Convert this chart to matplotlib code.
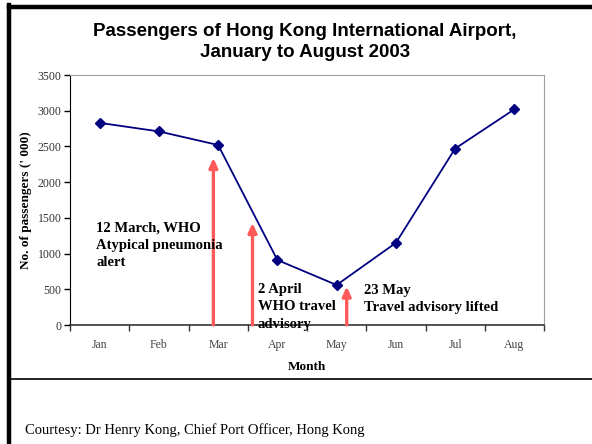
import matplotlib.pyplot as plt
from matplotlib.lines import Line2D

months = ["Jan", "Feb", "Mar", "Apr", "May", "Jun", "Jul", "Aug"]
passengers = [2830, 2710, 2520, 910, 560, 1150, 2470, 3020]

# event arrows: x in month index units, top of arrow in passengers
event_x = [1.92, 2.58, 4.17]
event_top = [2340, 1430, 540]
event_labels = [
    "12 March, WHO\nAtypical pneumonia\nalert",
    "2 April\nWHO travel\nadvisory",
    "23 May\nTravel advisory lifted",
]
label_pos = [(-0.06, 1450), (2.67, 590), (4.46, 580)]

serif = "Liberation Serif"
sans = "Liberation Sans"

fig = plt.figure(figsize=(5.92, 4.44), dpi=100)
ax = fig.add_axes([70 / 592, 1 - 325 / 444, 474 / 592, 250 / 444])

x = list(range(len(months)))
ax.plot(x, passengers, color="#000080", lw=1.3, marker="D", ms=5, zorder=4)

for ex, top in zip(event_x, event_top):
    ax.annotate(
        "", xy=(ex, top), xytext=(ex, 0),
        arrowprops=dict(arrowstyle="-|>,head_length=0.55,head_width=0.25",
                        color="#FF5B5B", lw=2.4, shrinkA=0, shrinkB=0),
        zorder=3,
    )

for (tx, ty), txt in zip(label_pos, event_labels):
    ax.text(tx, ty, txt, family=serif, fontweight="bold", fontsize=10.5,
            va="top", ha="left", linespacing=1.45, zorder=5)

ax.set_xlim(-0.5, len(months) - 0.5)
ax.set_ylim(0, 3500)
ax.set_yticks(range(0, 3501, 500))
ax.set_xticks(x)
ax.set_xticklabels(months)
ax.set_xticks([i - 0.5 for i in range(len(months) + 1)], minor=True)
ax.tick_params(axis="x", which="major", length=0, pad=10, labelsize=8.5,
               labelcolor="#444444")
ax.tick_params(axis="x", which="minor", length=4, width=1, color="#333333",
               direction="out")
ax.tick_params(axis="y", length=4, width=1, direction="out", labelsize=8.5,
               labelcolor="#333333", pad=2)
for lab in ax.get_xticklabels() + ax.get_yticklabels():
    lab.set_family(serif)

ax.spines["left"].set_color("black")
ax.spines["bottom"].set_color("#333333")
ax.spines["bottom"].set_linewidth(1.2)
ax.spines["top"].set_color("#a0a0a0")
ax.spines["right"].set_color("#a0a0a0")

ax.set_xlabel("Month", family=serif, fontweight="bold", fontsize=9.5, labelpad=7)
ax.set_ylabel("No. of passengers (' 000)", family=serif, fontweight="bold",
              fontsize=9.5, labelpad=4)

fig.text(305 / 592, 1 - 42 / 444,
         "Passengers of Hong Kong International Airport,\nJanuary to August 2003",
         family=sans, fontweight="bold", fontsize=13.5, ha="center", va="center",
         linespacing=1.25)

fig.text(25 / 592, 1 - 430 / 444,
         "Courtesy: Dr Henry Kong, Chief Port Officer, Hong Kong",
         family=serif, fontsize=10.5, ha="left", va="center")

# outer frame and separator
fig.add_artist(Line2D([9 / 592, 9 / 592], [0, 1 - 5 / 444], color="black",
                      lw=3.2, transform=fig.transFigure, solid_capstyle="projecting"))
fig.add_artist(Line2D([9 / 592, 1], [1 - 7 / 444, 1 - 7 / 444], color="black",
                      lw=3.2, transform=fig.transFigure, solid_capstyle="projecting"))
fig.add_artist(Line2D([9 / 592, 1], [1 - 379 / 444, 1 - 379 / 444], color="black",
                      lw=1.2, transform=fig.transFigure))

fig.savefig("out.png", dpi=100)
